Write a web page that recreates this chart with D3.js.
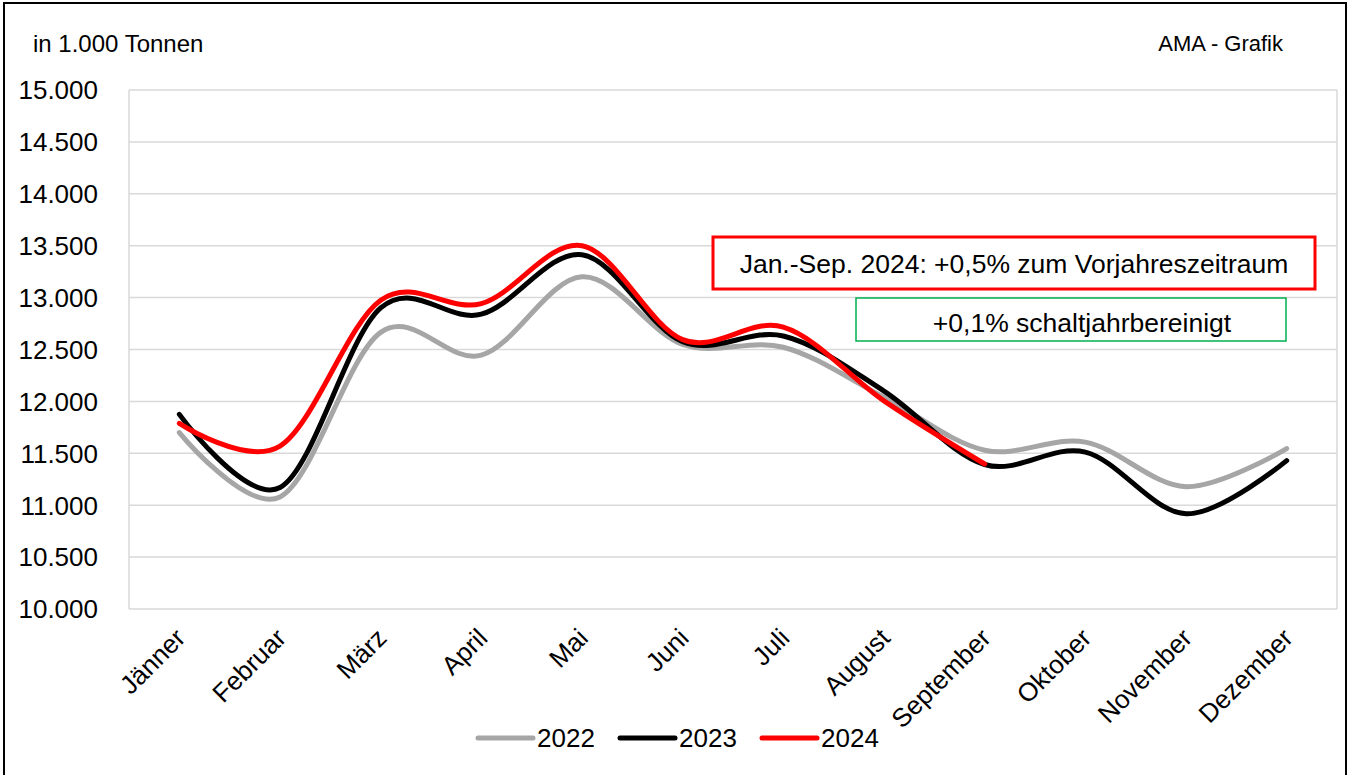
<!DOCTYPE html>
<html>
<head>
<meta charset="utf-8">
<script src="https://cdn.jsdelivr.net/npm/d3@7"></script>
<style>
  body { margin: 0; background: #fff; }
  svg { display: block; font-family: "Liberation Sans", Arial, sans-serif; }
</style>
</head>
<body>
<div class="chart"></div>
<script>
const months = ["Jänner", "Februar", "März", "April", "Mai", "Juni", "Juli", "August", "September", "Oktober", "November", "Dezember"]
const years = ["2022", "2023", "2024"]
const values2022 = [11700, 11080, 12665, 12445, 13200, 12550, 12522, 12040, 11530, 11608, 11178, 11545]
const values2023 = [11875, 11170, 12900, 12840, 13413, 12575, 12630, 12100, 11392, 11512, 10917, 11430]
const values2024 = [11788, 11570, 12975, 12942, 13500, 12595, 12715, 12005, 11397]
const yTicks = [10000, 10500, 11000, 11500, 12000, 12500, 13000, 13500, 14000, 14500, 15000]
const noteMain = "Jan.-Sep. 2024: +0,5% zum Vorjahreszeitraum"
const noteLeap = "+0,1% schaltjahrbereinigt"

const width = 1351
const height = 775
const plot = { left: 129, right: 1337, top: 90, bottom: 609 }
const colors = { "2022": "#a6a6a6", "2023": "#000000", "2024": "#ff0000" }
const grid = "#d9d9d9"

const de = d3.formatLocale({ decimal: ",", thousands: ".", grouping: [3], currency: ["", " €"] })
const fmt = de.format(",")

const svg = d3.select(".chart").append("svg")
  .attr("width", width)
  .attr("height", height)

// outer frame
svg.append("rect")
  .attr("x", 4).attr("y", 3)
  .attr("width", 1342).attr("height", 790)
  .attr("fill", "#fff")
  .attr("stroke", "#000")
  .attr("stroke-width", 2)

const x = d3.scalePoint().domain(months).range([plot.left, plot.right]).padding(0.5)
const y = d3.scaleLinear().domain([10000, 15000]).range([plot.bottom, plot.top])

// gridlines + y labels
const yAxis = svg.append("g")
yAxis.selectAll("line")
  .data(yTicks)
  .enter()
  .append("line")
  .attr("x1", plot.left).attr("x2", plot.right)
  .attr("y1", d => y(d)).attr("y2", d => y(d))
  .attr("stroke", grid)
  .attr("stroke-width", 1.5)

yAxis.selectAll("text")
  .data(yTicks)
  .enter()
  .append("text")
  .attr("x", 98)
  .attr("y", d => y(d))
  .attr("dy", "0.36em")
  .attr("text-anchor", "end")
  .attr("font-size", 26)
  .attr("fill", "#000")
  .text(d => fmt(d))

svg.append("line")
  .attr("x1", plot.left).attr("x2", plot.left)
  .attr("y1", plot.top).attr("y2", plot.bottom)
  .attr("stroke", grid).attr("stroke-width", 1.5)
svg.append("line")
  .attr("x1", plot.right).attr("x2", plot.right)
  .attr("y1", plot.top).attr("y2", plot.bottom)
  .attr("stroke", grid).attr("stroke-width", 1.5)

// x labels
svg.append("g")
  .selectAll("text")
  .data(months)
  .enter()
  .append("text")
  .attr("transform", d => `translate(${x(d) + 1}, 633) rotate(-45)`)
  .attr("dy", "0.36em")
  .attr("text-anchor", "end")
  .attr("font-size", 26)
  .attr("fill", "#000")
  .text(d => d)

// lines
const line = d3.line()
  .curve(d3.curveCardinal.tension(0))
  .x((d, i) => x(months[i]))
  .y(d => y(d))

const series = [values2022, values2023, values2024]
svg.append("g")
  .selectAll("path")
  .data(series)
  .enter()
  .append("path")
  .attr("d", d => line(d))
  .attr("fill", "none")
  .attr("stroke", (d, i) => colors[years[i]])
  .attr("stroke-width", 5)
  .attr("stroke-linecap", "round")
  .attr("stroke-linejoin", "round")

// titles
svg.append("text")
  .attr("x", 33).attr("y", 52)
  .attr("font-size", 24)
  .text("in 1.000 Tonnen")
svg.append("text")
  .attr("x", 1283).attr("y", 51)
  .attr("text-anchor", "end")
  .attr("font-size", 22)
  .text("AMA - Grafik")

// annotation boxes
svg.append("rect")
  .attr("x", 713).attr("y", 237)
  .attr("width", 602).attr("height", 52)
  .attr("fill", "#fff")
  .attr("stroke", "#ff0000")
  .attr("stroke-width", 3)
svg.append("text")
  .attr("x", 1014).attr("y", 263)
  .attr("dy", "0.36em")
  .attr("text-anchor", "middle")
  .attr("font-size", 26.5)
  .text(noteMain)

svg.append("rect")
  .attr("x", 856).attr("y", 298)
  .attr("width", 430).attr("height", 43)
  .attr("fill", "#fff")
  .attr("stroke", "#00b050")
  .attr("stroke-width", 1.5)
svg.append("text")
  .attr("x", 1082).attr("y", 322)
  .attr("dy", "0.36em")
  .attr("text-anchor", "middle")
  .attr("font-size", 26.5)
  .text(noteLeap)

// legend
const legendX = [478, 620, 762]
const legend = svg.append("g")
  .selectAll("g")
  .data(years)
  .enter()
  .append("g")
  .attr("transform", (d, i) => `translate(${legendX[i]}, 738)`)
legend.append("line")
  .attr("x1", 0).attr("x2", 55)
  .attr("stroke", d => colors[d])
  .attr("stroke-width", 5)
  .attr("stroke-linecap", "round")
legend.append("text")
  .attr("x", 59)
  .attr("dy", "0.36em")
  .attr("font-size", 26)
  .text(d => d)
</script>
</body>
</html>
